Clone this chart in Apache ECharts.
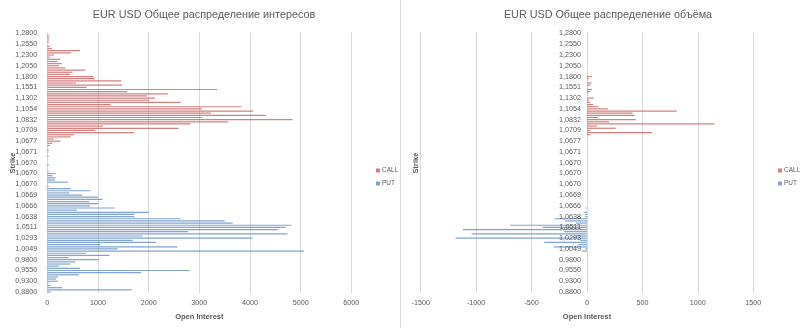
<!DOCTYPE html>
<html><head><meta charset="utf-8">
<script src="https://cdn.jsdelivr.net/npm/echarts@6/dist/echarts.min.js"></script>
<style>html,body{margin:0;padding:0;background:#fff}#c{width:800px;height:328px}</style>
</head><body><div id="c"></div>
<script>
// Strike categories, top to bottom (every 5th is labelled)
const strikes = [
 '1,2800','1,2750','1,2700','1,2650','1,2600','1,2550','1,2500','1,2450','1,2400','1,2350',
 '1,2300','1,2250','1,2200','1,2150','1,2100','1,2050','1,2000','1,1950','1,1900','1,1850',
 '1,1800','1,1750','1,1700','1,1650','1,1600','1,1551','1,1501','1,1451','1,1402','1,1352',
 '1,1302','1,1252','1,1203','1,1153','1,1103','1,1054','1,1004','1,0960','1,0916','1,0876',
 '1,0832','1,0808','1,0783','1,0758','1,0734','1,0709','1,0703','1,0696','1,0690','1,0684',
 '1,0677','1,0676','1,0675','1,0673','1,0672','1,0671','1,0671','1,0671','1,0670','1,0670',
 '1,0670','1,0670','1,0670','1,0670','1,0670','1,0670','1,0670','1,0670','1,0670','1,0670',
 '1,0670','1,0670','1,0670','1,0669','1,0669','1,0669','1,0668','1,0668','1,0667','1,0667',
 '1,0666','1,0660','1,0654','1,0649','1,0643','1,0638','1,0612','1,0587','1,0562','1,0536',
 '1,0511','1,0467','1,0424','1,0380','1,0337','1,0293','1,0244','1,0195','1,0147','1,0098',
 '1,0049','1,0000','0,9950','0,9900','0,9850','0,9800','0,9750','0,9700','0,9650','0,9600',
 '0,9550','0,9500','0,9450','0,9400','0,9350','0,9300','0,9200','0,9100','0,9000','0,8900',
 '0,8800'
];
const callOI = [
 0,30,40,40,25,0,50,90,645,470,
 130,50,250,200,290,235,360,750,500,450,
 910,935,1460,565,1475,775,3355,1580,2380,1970,
 2130,2010,2630,1250,3830,3050,4060,3230,4320,3050,
 4840,3570,2820,1100,2590,950,1710,530,460,130,
 260,100,50,0,25,25,0,0,0,0,
 0,0,0,0,0,0,0,0,0,0,
 0,25,0,0,0,0,0,0,0,0,
 0,0,0,0,0,0,0,0,0,0,
 0,0,0,0,0,0,0,0,0,0,
 0,0,0,0,0,0,0,0,0,0,
 0,0,0,0,0,0,0,0,0,0,
 0
];
const putOI = [
 0,0,0,0,0,0,0,0,0,0,
 0,0,0,0,0,0,0,0,0,0,
 0,0,0,0,0,0,0,0,0,0,
 0,0,0,0,0,0,0,0,0,0,
 0,0,0,0,0,0,0,0,0,0,
 0,0,0,0,0,0,0,25,0,0,
 0,30,0,0,25,165,100,165,150,410,
 0,0,465,860,435,690,1000,1090,825,1000,
 840,1330,585,2000,1720,1720,2630,3500,3660,4820,
 4700,4550,2780,4740,1880,4050,1685,2145,1050,2565,
 1390,5060,765,1230,420,1020,555,460,230,645,
 2810,1850,620,210,170,210,25,65,295,1665,
 70
];
const callVol = [
 0,0,0,0,0,0,0,0,0,0,
 0,0,0,0,0,0,0,0,0,0,
 45,15,0,40,30,0,45,30,6,0,
 60,18,30,55,100,190,810,410,430,100,
 440,200,1150,90,260,30,590,30,0,0,
 0,0,0,0,0,0,0,0,0,0,
 0,0,0,0,0,0,0,0,0,0,
 0,0,0,0,0,0,0,0,0,0,
 0,0,0,0,0,0,0,0,0,0,
 0,0,0,0,0,0,0,0,0,0,
 0,0,0,0,0,0,0,0,0,0,
 0,0,0,0,0,0,0,0,0,0,
 0
];
// PUT volume, plotted to the left (negative)
const putVol = [
 0,0,0,0,0,0,0,0,0,0,
 0,0,0,0,0,0,0,0,0,0,
 0,0,0,0,0,0,0,0,0,0,
 0,0,0,0,0,0,0,0,0,0,
 0,0,0,0,0,0,0,0,0,0,
 0,0,0,0,0,0,0,0,0,0,
 0,0,0,0,0,0,0,0,0,0,
 0,0,0,0,0,0,0,0,0,0,
 0,-10,0,-25,-20,-15,-295,-200,-100,-690,
 -400,-1120,-205,-1040,-100,-1185,-60,-385,-80,-300,
 -15,-45,0,0,0,0,0,0,0,0,
 0,0,0,0,0,0,0,0,0,0,
 0
];
const seriesNames = ['CALL', 'PUT'];
const titles = ['EUR USD Общее распределение интересов', 'EUR USD Общее распределение объёма'];
const axisTitleX = 'Open Interest';
const axisTitleY = 'Strike';
const oiRange = [0, 6000, 1000];
const volRange = [-1500, 1500, 500];

const FONT = "'Liberation Sans',Arial,sans-serif";
const GRAY = '#595959';
const GRIDC = '#d9d9d9';
const CALLC = '#c0504d';
const PUTC = '#4f81bd';

const G0 = {left: 47.3, top: 32.4, width: 304, height: 260.7};
const G1 = {left: 420.7, top: 32.4, width: 332.6, height: 260.7};
// put the right chart's category axis on the value 0 of its x axis
const zeroShift = (0 - volRange[0]) / (volRange[1] - volRange[0]) * G1.width;

const chart = echarts.init(document.getElementById('c'));
const catAxis = (gi, z, offset, margin) => ({
  type: 'category', gridIndex: gi, data: strikes, inverse: true, z: z, offset: offset,
  axisLine: {show: false, onZero: false}, axisTick: {show: false},
  axisLabel: {interval: 4, fontSize: 7.2, color: GRAY, fontFamily: FONT, margin: margin},
  splitLine: {show: false}
});
const valAxis = (gi, r) => ({
  type: 'value', gridIndex: gi, min: r[0], max: r[1], interval: r[2],
  axisLine: {show: false}, axisTick: {show: false},
  axisLabel: {fontSize: 7.2, color: GRAY, fontFamily: FONT, margin: 6, formatter: v => String(v)},
  splitLine: {lineStyle: {color: GRIDC, width: 1}},
  name: axisTitleX, nameLocation: 'middle', nameGap: 20,
  nameTextStyle: {fontSize: 7.5, fontWeight: 'bold', color: GRAY, fontFamily: FONT}
});
const bar = (name, data, gi, color) => ({
  type: 'bar', name: name, data: data, xAxisIndex: gi, yAxisIndex: gi,
  barWidth: 1.2, barGap: '-100%', itemStyle: {color: color, opacity: 0.72},
  silent: true
});
const legend = (left) => ({
  data: seriesNames, orient: 'vertical', left: left, top: 162, icon: 'rect',
  itemWidth: 4, itemHeight: 4, itemGap: 6,
  textStyle: {fontSize: 6.5, color: GRAY, fontFamily: FONT, padding: [0, 0, 0, -3]}
});
const titleStyle = {fontSize: 10.8, fontWeight: 'normal', color: GRAY, fontFamily: FONT};

chart.setOption({
  animation: false,
  title: [
    {text: titles[0], left: 199, top: 5, textAlign: 'center', textStyle: titleStyle},
    {text: titles[1], left: 603, top: 5, textAlign: 'center', textStyle: titleStyle}
  ],
  legend: [legend(371), legend(773)],
  grid: [G0, G1],
  xAxis: [valAxis(0, oiRange), valAxis(1, volRange)],
  yAxis: [catAxis(0, 0, 0, 10), catAxis(1, 5, -zeroShift, 6)],
  series: [
    bar(seriesNames[0], callOI, 0, CALLC),
    bar(seriesNames[1], putOI, 0, PUTC),
    bar(seriesNames[0], callVol, 1, CALLC),
    bar(seriesNames[1], putVol, 1, PUTC)
  ],
  graphic: [
    {type: 'line', shape: {x1: 400.5, y1: 0, x2: 400.5, y2: 328}, style: {stroke: GRIDC, lineWidth: 1}, silent: true},
    {type: 'text', x: 13, y: 163, rotation: Math.PI / 2,
     style: {text: axisTitleY, fontSize: 7.5, fontWeight: 'bold', fill: GRAY, fontFamily: FONT, align: 'center', verticalAlign: 'middle'}},
    {type: 'text', x: 415.5, y: 163, rotation: Math.PI / 2,
     style: {text: axisTitleY, fontSize: 7.5, fontWeight: 'bold', fill: GRAY, fontFamily: FONT, align: 'center', verticalAlign: 'middle'}}
  ]
});
</script></body></html>
